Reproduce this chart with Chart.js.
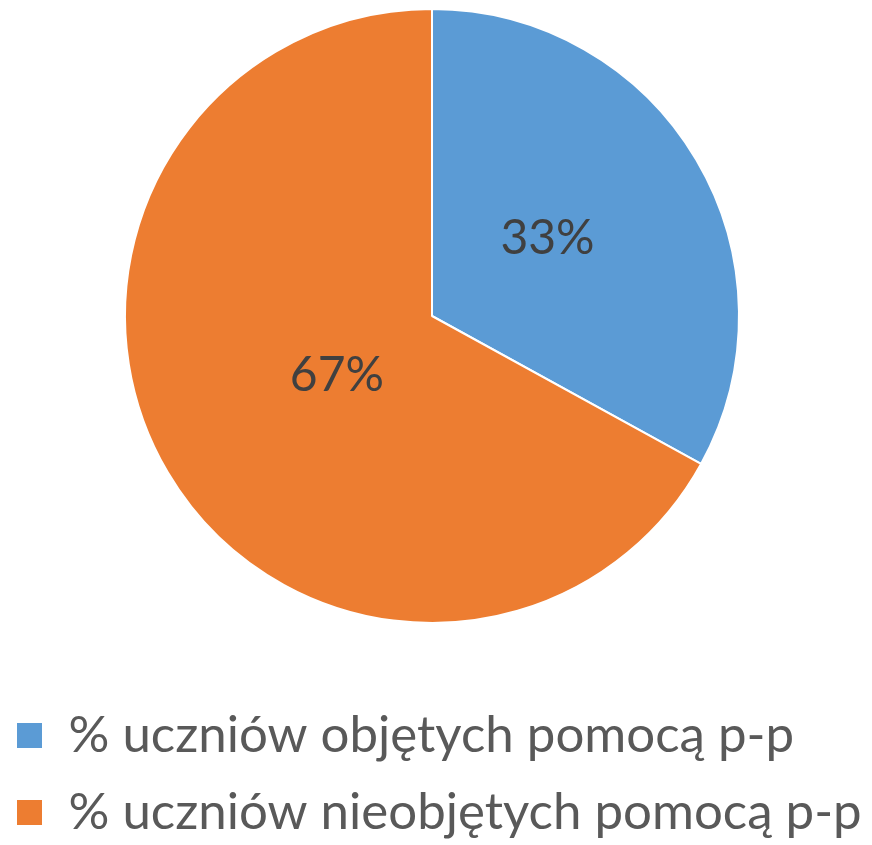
<!DOCTYPE html>
<html>
<head>
<meta charset="utf-8">
<script src="https://cdn.jsdelivr.net/npm/chart.js@4"></script>
<style>
  html, body { margin: 0; padding: 0; background: #ffffff; }
  #wrap { width: 872px; height: 845px; position: relative; }
</style>
</head>
<body>
<div id="wrap"><canvas id="c"></canvas></div>
<script>
const categories = ['% uczniów objętych pomocą p-p', '% uczniów nieobjętych pomocą p-p'];
const values = [33, 67];
const colors = ['#5B9BD5', '#ED7D31'];

const labelPlugin = {
  id: 'sliceLabels',
  afterLayout(chart) {
    // nudge legend block slightly left and let it use the full canvas width
    const lg = chart.legend;
    if (lg) { lg.left -= 10; lg.right = chart.width; lg.width = lg.right - lg.left; }
  },
  afterDatasetsDraw(chart) {
    const ctx = chart.ctx;
    const meta = chart.getDatasetMeta(0);
    const total = values.reduce((a, b) => a + b, 0);
    const fracs = [0.437, 0.36];
    const yShift = [-9, 3];
    ctx.save();
    ctx.font = '48px Lato';
    ctx.fillStyle = '#404040';
    ctx.textAlign = 'center';
    ctx.textBaseline = 'middle';
    meta.data.forEach((arc, i) => {
      const p = arc.getProps(['x', 'y', 'startAngle', 'endAngle', 'outerRadius'], true);
      const a = (p.startAngle + p.endAngle) / 2;
      const r = p.outerRadius * fracs[i];
      const txt = Math.round(values[i] / total * 100) + '%';
      ctx.fillText(txt, p.x + Math.cos(a) * r, p.y + Math.sin(a) * r + yShift[i]);
    });
    ctx.restore();
  }
};

new Chart(document.getElementById('c'), {
  type: 'pie',
  data: {
    labels: categories,
    datasets: [{
      data: values,
      backgroundColor: colors,
      borderColor: '#ffffff',
      borderWidth: 2
    }]
  },
  options: {
    responsive: true,
    maintainAspectRatio: false,
    animation: false,
    layout: { padding: { left: 0, right: 8, top: 8, bottom: -3 } },
    plugins: {
      tooltip: { enabled: false },
      legend: {
        position: 'bottom',
        align: 'start',
        title: { display: true, text: '', padding: { top: 50, bottom: 0 }, font: { size: 10, lineHeight: 1 } },
        labels: {
          boxWidth: 27,
          boxHeight: 27,
          padding: 26,
          color: '#595959',
          font: { family: 'Lato', size: 51 }
        }
      }
    }
  },
  plugins: [labelPlugin]
});
</script>
</body>
</html>
